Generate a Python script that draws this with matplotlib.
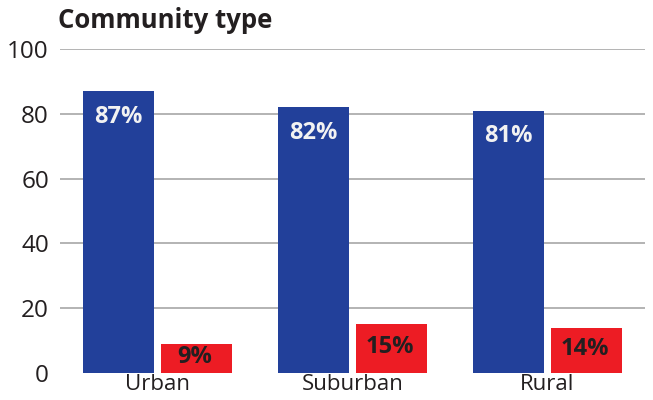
import numpy as np
import matplotlib.pyplot as plt

plt.rcParams['font.family'] = ['Open Sans', 'DejaVu Sans']

categories = ["Urban", "Suburban", "Rural"]
blue_values = [87, 82, 81]
red_values = [9, 15, 14]
yticks = [0, 20, 40, 60, 80, 100]

blue = "#22409A"
red = "#ED1C24"
dark = "#231F20"

fig = plt.figure(figsize=(6.53, 4.0), dpi=100)
ax = fig.add_axes([60 / 653, 27 / 400, 585 / 653, 324 / 400])

x = np.arange(len(categories))
width = 0.364
b1 = ax.bar(x - 0.2, blue_values, width, color=blue, zorder=2)
b2 = ax.bar(x + 0.2, red_values, width, color=red, zorder=2)

for rect, v in zip(b1, blue_values):
    ax.text(rect.get_x() + rect.get_width() / 2, v - 8, f"{v}%",
            ha="center", va="center", color="#F2F2F2",
            fontsize=17, fontweight="bold", zorder=3)
for rect, v in zip(b2, red_values):
    ax.text(rect.get_x() + rect.get_width() / 2 - 0.01, v / 2 + 0.5, f"{v}%",
            ha="center", va="center", color=dark,
            fontsize=17, fontweight="bold", zorder=3)

ax.set_xlim(-0.5, 2.5)
ax.set_ylim(0, 100)
ax.set_yticks(yticks)
ax.set_xticks(x)
ax.set_xticklabels(categories)
ax.tick_params(axis="both", length=0, labelcolor=dark)
ax.tick_params(axis="x", labelsize=16, pad=1)
ax.tick_params(axis="y", labelsize=17.5, pad=8)

for t in yticks[1:]:
    ax.axhline(t, color="#B3B3B3", linewidth=1.4, zorder=1)

for s in ax.spines.values():
    s.set_visible(False)

fig.text(58 / 653, 1 - 21 / 400, "Community type", ha="left", va="center",
         fontsize=18.5, fontweight="bold", color=dark)

fig.savefig("out.png", dpi=100)
